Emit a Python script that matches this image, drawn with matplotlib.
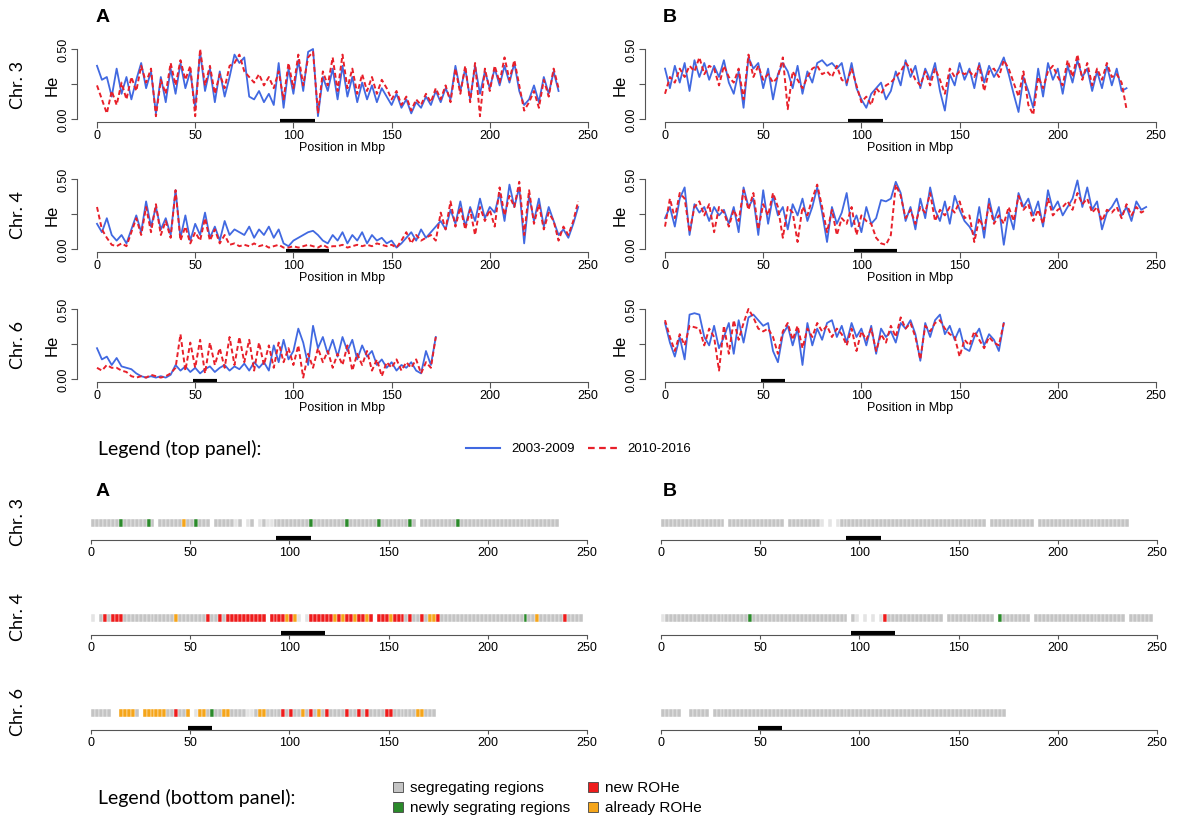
import numpy as np
import matplotlib.pyplot as plt
from matplotlib.lines import Line2D
from matplotlib.patches import Rectangle

W, H = 1184, 820
STEP = 2.5   # Mbp between two He values
CELL = 2.0   # Mbp covered by one cell of the region band

chrom_names = ["Chr. 3", "Chr. 4", "Chr. 6"]
marker_regions = [(93, 111), (96, 118), (49, 61)]
x_ticks = [0, 50, 100, 150, 200, 250]
years = ["2003-2009", "2010-2016"]

# He * 100, every 2.5 Mbp
# column A
he_a3_old = [38, 28, 30, 16, 36, 18, 30, 14, 28, 40, 22, 34, 4, 30, 12, 36, 18, 40, 22, 34,
             8, 48, 20, 36, 12, 34, 16, 30, 46, 40, 44, 16, 14, 20, 12, 18, 10, 40, 8, 36,
             18, 42, 20, 48, 50, 2, 30, 20, 36, 14, 38, 16, 30, 12, 26, 14, 24, 12, 22, 16,
             10, 18, 8, 14, 4, 12, 8, 16, 10, 20, 12, 22, 14, 38, 20, 36, 14, 38, 18, 34,
             22, 36, 24, 38, 26, 40, 20, 10, 14, 24, 12, 30, 18, 34, 20]
he_a3_new = [24, 14, 4, 20, 10, 26, 14, 30, 20, 38, 26, 36, 2, 28, 18, 40, 24, 42, 28, 38,
             2, 50, 24, 38, 18, 32, 22, 38, 40, 46, 34, 30, 26, 32, 24, 30, 22, 34, 14, 40,
             22, 46, 24, 44, 48, 4, 34, 24, 44, 20, 46, 22, 36, 18, 32, 20, 30, 18, 28, 22,
             14, 20, 10, 16, 6, 14, 10, 18, 12, 22, 14, 24, 12, 36, 18, 38, 12, 40, 2, 36,
             20, 38, 26, 44, 28, 42, 24, 6, 12, 20, 8, 28, 16, 36, 22]
he_a4_old = [18, 12, 22, 10, 6, 10, 4, 14, 24, 12, 34, 16, 30, 14, 22, 10, 42, 8, 24, 6,
             18, 10, 26, 8, 16, 6, 20, 10, 14, 12, 10, 16, 8, 14, 10, 16, 8, 14, 4, 2,
             6, 8, 10, 12, 13, 10, 6, 4, 10, 6, 12, 4, 10, 6, 12, 4, 10, 6, 8, 4,
             6, 1, 4, 8, 12, 6, 14, 8, 12, 16, 20, 14, 28, 18, 34, 16, 30, 20, 36, 22,
             30, 26, 40, 20, 46, 30, 44, 4, 38, 20, 36, 16, 30, 20, 10, 14, 8, 18, 30]
he_a4_new = [30, 14, 8, 3, 2, 4, 2, 12, 22, 10, 30, 12, 32, 10, 20, 8, 42, 6, 16, 4,
             12, 6, 22, 6, 14, 4, 10, 3, 4, 2, 3, 2, 4, 2, 3, 1, 2, 3, 1, 1,
             2, 1, 2, 3, 2, 1, 3, 1, 2, 2, 3, 1, 2, 3, 2, 3, 2, 4, 3, 2,
             3, 1, 6, 12, 4, 10, 6, 8, 10, 6, 26, 14, 34, 16, 30, 14, 28, 10, 30, 20,
             28, 16, 44, 24, 38, 30, 48, 10, 42, 18, 32, 14, 26, 20, 6, 16, 10, 20, 34]
he_a6_old = [22, 14, 16, 10, 15, 9, 8, 7, 4, 2, 1, 2, 1, 2, 1, 3, 10, 6, 9, 5,
             8, 4, 7, 9, 5, 8, 10, 6, 9, 7, 11, 6, 12, 8, 12, 6, 24, 12, 28, 14,
             20, 36, 26, 10, 38, 22, 30, 18, 28, 16, 30, 20, 28, 14, 24, 16, 20, 10, 14, 8,
             12, 6, 10, 8, 12, 6, 4, 20, 10, 30]
he_a6_new = [8, 6, 10, 8, 8, 6, 5, 2, 1, 2, 1, 3, 2, 1, 2, 4, 8, 32, 6, 26,
             8, 28, 4, 26, 10, 22, 8, 30, 10, 30, 12, 28, 6, 26, 10, 24, 8, 26, 12, 22,
             10, 24, 1, 18, 8, 22, 12, 20, 8, 18, 10, 24, 6, 18, 10, 20, 6, 14, 2, 12,
             8, 14, 6, 12, 8, 14, 4, 12, 8, 30]
# column B
he_b3_old = [36, 22, 38, 26, 40, 20, 42, 30, 40, 28, 38, 30, 42, 26, 18, 34, 8, 44, 36, 40,
             22, 36, 14, 32, 40, 34, 22, 38, 18, 34, 26, 40, 42, 38, 40, 36, 40, 24, 40, 22,
             14, 8, 18, 22, 26, 14, 20, 34, 24, 42, 30, 38, 22, 36, 28, 40, 20, 6, 32, 24,
             40, 28, 36, 22, 40, 26, 38, 30, 36, 44, 32, 18, 5, 30, 20, 8, 36, 16, 40, 28,
             36, 18, 38, 26, 42, 30, 36, 20, 34, 22, 38, 24, 36, 20, 22]
he_b3_new = [18, 30, 26, 36, 30, 38, 34, 44, 32, 38, 36, 24, 38, 30, 26, 36, 14, 46, 30, 38,
             28, 32, 26, 30, 44, 7, 34, 28, 22, 30, 36, 38, 32, 34, 30, 38, 28, 26, 36, 24,
             12, 16, 10, 22, 18, 24, 26, 30, 34, 40, 36, 28, 24, 34, 24, 36, 28, 18, 36, 30,
             34, 32, 34, 30, 38, 20, 34, 36, 30, 42, 36, 26, 16, 34, 10, 3, 30, 22, 34, 38,
             30, 24, 42, 30, 46, 28, 40, 24, 36, 28, 40, 30, 32, 26, 7]
he_b4_old = [22, 30, 16, 36, 44, 10, 32, 26, 30, 20, 30, 24, 28, 18, 30, 12, 44, 30, 36, 10,
             42, 18, 38, 24, 30, 14, 32, 24, 36, 20, 30, 44, 26, 5, 30, 18, 26, 40, 16, 24,
             12, 30, 18, 22, 35, 34, 36, 48, 40, 20, 30, 14, 36, 22, 44, 28, 20, 34, 18, 38,
             28, 20, 16, 10, 30, 8, 36, 20, 30, 3, 26, 14, 40, 30, 36, 24, 34, 16, 42, 28,
             34, 24, 30, 36, 49, 30, 44, 28, 34, 14, 26, 30, 36, 24, 30, 20, 34, 28, 30]
he_b4_new = [16, 36, 22, 40, 36, 12, 30, 34, 24, 32, 12, 30, 26, 16, 28, 20, 42, 28, 40, 14,
             32, 24, 40, 30, 8, 30, 26, 5, 30, 24, 36, 46, 30, 12, 28, 10, 22, 18, 30, 10,
             24, 20, 18, 8, 4, 3, 10, 46, 38, 22, 28, 18, 30, 26, 40, 20, 28, 24, 30, 26,
             34, 22, 24, 5, 22, 14, 32, 18, 24, 18, 30, 20, 38, 28, 32, 20, 28, 18, 36, 24,
             28, 30, 34, 28, 40, 32, 36, 26, 30, 20, 28, 26, 30, 22, 32, 24, 30, 26, 28]
he_b6_old = [40, 26, 16, 30, 14, 46, 47, 46, 30, 24, 38, 22, 30, 40, 18, 42, 26, 44, 46, 42,
             38, 40, 20, 12, 32, 38, 24, 36, 10, 40, 24, 36, 28, 40, 42, 30, 38, 26, 40, 30,
             36, 24, 38, 18, 36, 30, 34, 26, 40, 36, 42, 32, 13, 40, 30, 42, 46, 32, 38, 28,
             36, 22, 20, 30, 36, 24, 32, 28, 20, 40]
he_b6_new = [42, 30, 20, 32, 24, 38, 37, 36, 24, 36, 30, 6, 38, 18, 42, 28, 40, 50, 44, 36,
             34, 36, 30, 18, 34, 40, 28, 38, 22, 36, 30, 40, 34, 38, 30, 36, 32, 24, 36, 20,
             34, 28, 36, 20, 32, 26, 38, 30, 44, 36, 40, 30, 14, 38, 34, 40, 42, 36, 32, 30,
             16, 28, 24, 34, 28, 22, 30, 26, 24, 40]

# region band, one letter per 2 Mbp cell
# g segregating, G newly segregating, r new ROHe, o already ROHe, l faint, . nothing
band_a3 = ("gggggggGgg" "ggggGg.ggg" "gggoggGggg" ".ggggglg.l" "g.lgllgggg" "gggggGgggg"
           "ggggGggggg" "ggGggggggg" "Gg.ggggggg" "ggGggggggg" "gggggggggg" "gggggggg")
band_a4 = ("l.grgrrrgg" "gggggggggg" "gogggggggr" "ggrgrrrrrr" "rrrr.rrrro" "rol.lrrrrr"
           "rororrorro" "r.rrrorrrg" "rggrgoorgg" "gggggggggg" "gggggggggG" "ggoggggggr" "gggg")
band_a6 = ("ggggg..ooo" "og.oooooog" "grggo.loog" "Gggooggggl" "lgooggggrg" "rggogrgogr"
           "ggggrggrgr" "ggggrrgggg" "ggooggg")
band_b3 = ("gggggggggg" "gggggg.ggg" "gggggggggg" "g.gggggggg" "l.l.lggggg" "gggggggggg"
           "gggggggggg" "gggggggggg" "gg.ggggggg" "gggg.ggggg" "gggggggggg" "gggggggg")
band_b4 = ("lggggggggg" "gggggggggg" "ggGggggggg" "gggggggggg" "ggggggg.gl" ".l.l.lrggg"
           "gggggggggg" "g.gggggggg" "gggg.Ggggg" "ggg.gggggg" "gggggggggg" "ggggggg.gg" "gggg")
band_b6 = ("ggggg..ggg" "gg.ggggggg" "gggggggggg" "gggggggggg" "gggggggggg" "gggggggggg"
           "gggggggggg" "gggggggggg" "ggggggg")

band_colors = {"g": "#c4c4c4", "G": "#2b8a2b", "r": "#ee1c1c", "o": "#f5a51a", "l": "#e4e4e4"}
legend_band = [("g", "segregating regions"), ("G", "newly segrating regions"),
               ("r", "new ROHe"), ("o", "already ROHe")]

BLUE = "#4169e1"
RED = "#e8202a"
AXC = "#555555"

plt.rcParams["font.family"] = ["Liberation Sans", "DejaVu Sans"]
fig = plt.figure(figsize=(W / 100, H / 100), dpi=100)


def px_axes(left, top, right, bottom):
    return fig.add_axes([left / W, 1 - bottom / H, (right - left) / W, (bottom - top) / H])


def style_axis(ax, ticklen, pad):
    for s in ["top", "right"]:
        ax.spines[s].set_visible(False)
    ax.spines["bottom"].set_bounds(0, 250)
    ax.spines["bottom"].set_color(AXC)
    ax.set_xticks(x_ticks)
    ax.tick_params(axis="x", length=ticklen, width=0.8, color=AXC, pad=pad, labelsize=9)


def top_panel(x0, x250, y0, y05, old, new, region):
    ux = (x250 - x0) / 250
    uy = (y0 - y05) / 0.5
    ax = px_axes(x0 - 10 * ux, y05 - 0.02 * uy, x250 + 10 * ux, y0 + 0.02 * uy)
    ax.set_xlim(-10, 260)
    ax.set_ylim(-0.02, 0.52)
    style_axis(ax, 4, 1.5)
    ax.spines["left"].set_bounds(0, 0.5)
    ax.spines["left"].set_color(AXC)
    ax.set_yticks([0, 0.25, 0.5])
    ax.set_yticklabels(["0.00", "", "0.50"], rotation=90, va="center")
    ax.tick_params(axis="y", length=4, width=0.8, color=AXC, pad=2, labelsize=9)
    pos_old = np.arange(len(old)) * STEP
    pos_new = np.arange(len(new)) * STEP
    ax.plot(pos_old, np.array(old) / 100, color=BLUE, lw=1.3)
    ax.plot(pos_new, np.array(new) / 100, color=RED, lw=1.4, dashes=(2.5, 1.5))
    ax.plot(region, [-0.012, -0.012], color="black", lw=3, solid_capstyle="butt")
    ax.set_xlabel("Position in Mbp", fontsize=9, labelpad=0)
    return ax


def band_panel(x0, x250, yaxis, band, region):
    ux = (x250 - x0) / 250
    ax = px_axes(x0 - 10 * ux, yaxis - 26, x250 + 10 * ux, yaxis)
    ax.set_xlim(-10, 260)
    ax.set_ylim(0, 26)
    style_axis(ax, 3, 1)
    ax.spines["left"].set_visible(False)
    ax.set_yticks([])
    starts = [i * CELL for i, c in enumerate(band) if c != "."]
    cols = [band_colors[c] for c in band if c != "."]
    ax.bar(starts, 8, width=CELL, bottom=13, align="edge", color=cols,
           edgecolor="white", linewidth=0.3)
    ax.plot(region, [2.5, 2.5], color="black", lw=3, solid_capstyle="butt")
    return ax


top_old = [[he_a3_old, he_a4_old, he_a6_old], [he_b3_old, he_b4_old, he_b6_old]]
top_new = [[he_a3_new, he_a4_new, he_a6_new], [he_b3_new, he_b4_new, he_b6_new]]
bands = [[band_a3, band_a4, band_a6], [band_b3, band_b4, band_b6]]

top_cols = [(97, 588), (665, 1156)]
band_cols = [(91, 587), (661, 1157)]
top_rows = [(120, 50), (250, 180), (380, 310)]
band_rows = [541, 636, 731]

for c in range(2):
    for r in range(3):
        top_panel(top_cols[c][0], top_cols[c][1], top_rows[r][0], top_rows[r][1],
                  top_old[c][r], top_new[c][r], marker_regions[r])
        band_panel(band_cols[c][0], band_cols[c][1], band_rows[r], bands[c][r], marker_regions[r])
        fig.text((52 if c == 0 else 620) / W, 1 - (top_rows[r][0] - 35) / H, "He",
                 rotation=90, ha="center", va="center", fontsize=12)

label_font = ["Lato", "DejaVu Sans"]
for r in range(3):
    fig.text(18 / W, 1 - (top_rows[r][0] - 35) / H, chrom_names[r], rotation=90,
             ha="center", va="center", fontsize=13, family=label_font)
    fig.text(18 / W, 1 - (band_rows[r] - 19) / H, chrom_names[r], rotation=90,
             ha="center", va="center", fontsize=13, family=label_font)

for letter, x in [("A", 103), ("B", 670)]:
    fig.text(x / W, 1 - 18 / H, letter, fontsize=14, fontweight="bold", ha="center", va="center")
    fig.text(x / W, 1 - 492 / H, letter, fontsize=14, fontweight="bold", ha="center", va="center")

# legend of the He panels
fig.text(98 / W, 1 - 449 / H, "Legend (top panel):", fontsize=14, family=label_font, va="center")
fig.add_artist(Line2D([466 / W, 500 / W], [1 - 449 / H] * 2, color=BLUE, lw=1.5))
fig.text(511 / W, 1 - 449 / H, years[0], fontsize=9.5, va="center")
fig.add_artist(Line2D([588 / W, 618 / W], [1 - 449 / H] * 2, color=RED, lw=1.6, dashes=(3, 2)))
fig.text(627 / W, 1 - 449 / H, years[1], fontsize=9.5, va="center")

# legend of the region bands
fig.text(98 / W, 1 - 798 / H, "Legend (bottom panel):", fontsize=14, family=label_font, va="center")
for i, (code, name) in enumerate(legend_band):
    lx = 393 if i < 2 else 588
    ly = 788 if i % 2 == 0 else 808
    fig.add_artist(Rectangle((lx / W, 1 - (ly + 5) / H), 10 / W, 10 / H,
                             facecolor=band_colors[code], edgecolor="#444444", lw=0.6))
    fig.text((lx + 17) / W, 1 - ly / H, name, fontsize=11, va="center")

fig.savefig("out.png", dpi=100)
